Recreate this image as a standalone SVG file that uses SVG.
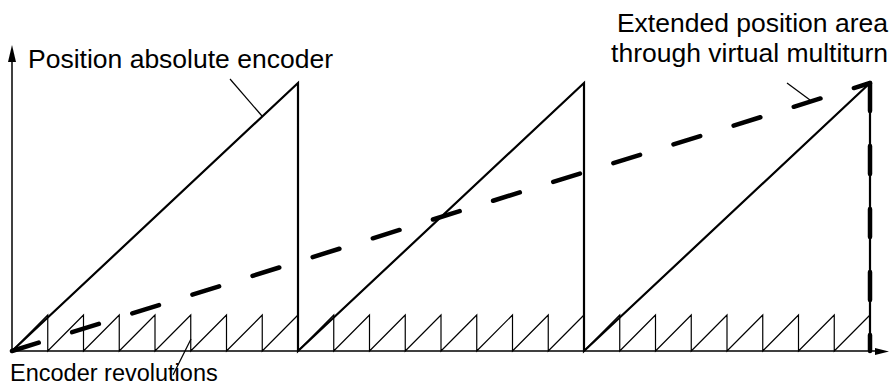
<svg xmlns="http://www.w3.org/2000/svg" width="889" height="385" viewBox="0 0 889 385">
<style>
text{font-family:"Liberation Sans",Arial,sans-serif;font-size:26.5px;fill:#000}
text.bottom{font-size:23.5px}
.big{fill:none;stroke:#000;stroke-width:2.2;stroke-linejoin:miter}
.small{fill:none;stroke:#000;stroke-width:1.2}
.axis{fill:none;stroke:#000;stroke-width:1.5}
.dash{fill:none;stroke:#000;stroke-width:4.5;stroke-linecap:round;stroke-dasharray:28 35}
.lead{fill:none;stroke:#000;stroke-width:1.2}
</style>
<rect width="889" height="385" fill="#fff"/>
<g id="axes">
<line class="axis" x1="12" y1="351" x2="12" y2="60"/>
<polygon points="12,45 8,62 16,62" fill="#000"/>
<line class="axis" x1="12" y1="351" x2="876" y2="351"/>
<polygon points="889,351.5 875,348 875,355" fill="#000"/>
</g>
<g id="small-teeth">
<path class="small" d="M12,351 L47.75,315 V351 L83.5,315 V351 L119.25,315 V351 L155,315 V351 L190.75,315 V351 L226.5,315 V351 L262.25,315 V351 L298,315 M298,351 L333.75,315 V351 L369.5,315 V351 L405.25,315 V351 L441,315 V351 L476.75,315 V351 L512.5,315 V351 L548.25,315 V351 L584,315 M584,351 L619.75,315 V351 L655.5,315 V351 L691.25,315 V351 L727,315 V351 L762.75,315 V351 L798.5,315 V351 L834.25,315 V351 L870,315"/>
</g>
<g id="position-absolute-encoder">
<path class="big" d="M12,351 L298,83 V351 L584,83 V351 L870,83 V351"/>
</g>
<g id="extended-position">
<path class="dash" d="M12,351 L870,83"/>
<path class="dash" d="M870,83 L870,351"/>
</g>
<g id="connectors">
<line class="lead" x1="230" y1="79" x2="262" y2="116"/>
<line class="lead" x1="787" y1="83" x2="810" y2="100"/>
<line class="lead" x1="173" y1="375" x2="191" y2="339"/>
</g>
<g id="labels">
<text x="28" y="68">Position absolute encoder</text>
<text x="888" y="32" text-anchor="end">Extended position area</text>
<text x="888" y="62" text-anchor="end">through virtual multiturn</text>
<text class="bottom" x="10" y="381">Encoder revolutions</text>
</g>
</svg>
